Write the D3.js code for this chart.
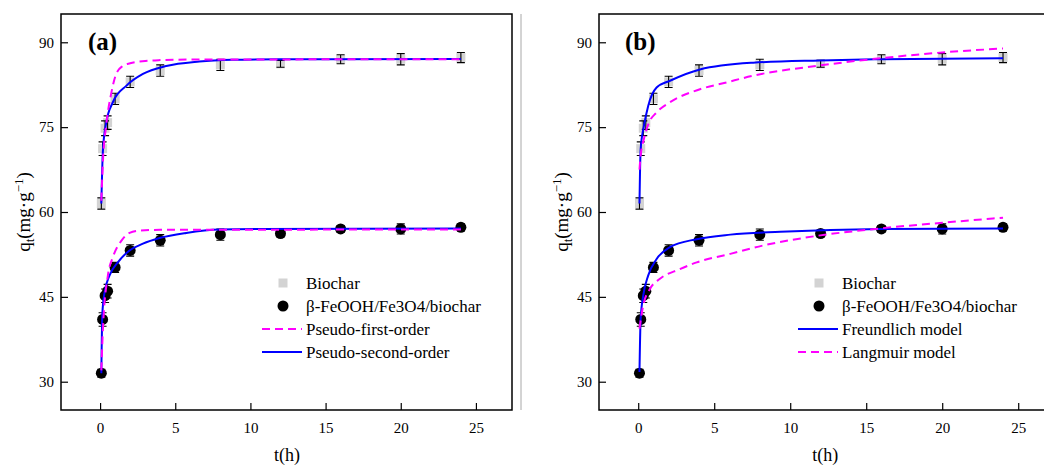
<!DOCTYPE html>
<meta charset="utf-8">
<style>
body { margin: 0; background: #fff; }
svg text { font-family: "Liberation Serif", "Times New Roman", Times, serif !important; fill: #000; }
.tick text { font-size: 15px; }
.tick line { stroke: #000; stroke-width: 1.2px; }
.box { fill: none; stroke: #000; stroke-width: 1.5px; }
.fit { fill: none; stroke-width: 2px; }
</style>
<body>
<script src="https://d3js.org/d3.v7.min.js"></script>
<script>

// measured points (same for both panels)
var times = [0.083, 0.167, 0.333, 0.5, 1, 2, 4, 8, 12, 16, 20, 24];
var biochar = [61.5, 71.2, 74.8, 75.8, 80.0, 83.0, 85.0, 86.0, 86.2, 87.0, 87.0, 87.3];
var biocharErr = [1.0, 1.2, 1.3, 1.2, 1.0, 1.0, 1.0, 1.0, 0.6, 0.8, 1.0, 0.9];
var composite = [31.5, 41.0, 45.2, 46.0, 50.2, 53.2, 55.0, 56.0, 56.2, 57.0, 57.0, 57.3];
var compositeErr = [0.7, 1.2, 1.2, 1.2, 0.9, 1.0, 1.0, 1.0, 0.6, 0.6, 0.9, 0.6];

// fitted curves, [t, q]
var pfoBiochar = [[0.083, 62.0], [0.2, 69.5], [0.4, 75.2], [0.75, 81.1], [1.07, 84.4], [1.5, 85.8], [2, 86.3], [3, 86.7], [4, 86.85], [6, 86.95], [24, 87.0]];
var psoBiochar = [[0.083, 61.5], [0.19, 71.0], [0.41, 75.8], [0.85, 79.4], [1.74, 82.3], [2.85, 84.4], [4.4, 85.8], [6.6, 86.6], [8.8, 86.9], [12, 87.0], [24, 87.05]];
var pfoComposite = [[0.083, 32.0], [0.19, 39.4], [0.52, 48.8], [0.85, 52.0], [1.41, 54.9], [1.96, 56.3], [2.63, 56.7], [4, 56.85], [24, 56.9]];
var psoComposite = [[0.083, 31.5], [0.15, 42.0], [0.3, 45.8], [0.63, 48.8], [1.18, 51.1], [1.96, 53.2], [2.85, 54.4], [3.96, 55.4], [5.73, 56.3], [7.95, 56.9], [10.6, 57.0], [24, 57.1]];

var freundBiochar = [[0.083, 61.5], [0.16, 71.1], [0.375, 75.2], [0.66, 78.8], [1.21, 82.0], [2.09, 83.2], [4.06, 85.2], [7.57, 86.4], [11.95, 86.8], [16, 87.0], [24, 87.2]];
var langBiochar = [[0.083, 67.5], [0.16, 70.0], [0.375, 72.9], [0.66, 75.5], [1.21, 77.6], [2.09, 79.4], [4.06, 81.7], [5.8, 82.9], [7.57, 84.1], [11.95, 85.9], [16, 87.2], [20, 88.2], [24, 88.9]];
var freundComposite = [[0.083, 31.7], [0.16, 41.1], [0.33, 45.2], [0.66, 48.8], [1.21, 51.7], [2.09, 53.8], [3.85, 55.2], [6.06, 56.0], [9.35, 56.5], [15.93, 57.0], [24, 57.1]];
var langComposite = [[0.083, 39.4], [0.33, 43.5], [0.77, 46.4], [1.43, 48.2], [2.74, 49.9], [3.85, 51.1], [6.06, 52.6], [8.25, 54.1], [11.56, 55.7], [15.93, 57.1], [20, 58.1], [24, 59.0]];

var xTicks = [0, 5, 10, 15, 20, 25];
var yTicks = [30, 45, 60, 75, 90];

var FONT = "'Liberation Serif', 'Times New Roman', Times, serif";

var svg = d3.select("body").append("svg")
    .attr("width", 1044)
    .attr("height", 466)
    .attr("font-family", FONT);

// thin separator between the two sub-figures
svg.append("line")
    .attr("x1", 521).attr("x2", 521)
    .attr("y1", 14).attr("y2", 410)
    .attr("stroke", "#a8a8a8").attr("stroke-width", 1);

function drawPanel(opt) {
  var g = svg.append("g");
  var x = d3.scaleLinear().domain(opt.xDomain).range([opt.left, opt.left + opt.width]);
  var y = d3.scaleLinear().domain([25, 95]).range([410, 14]);

  g.append("g")
      .attr("transform", "translate(0,410)")
      .call(d3.axisBottom(x).tickValues(xTicks).tickSize(-7).tickPadding(12))
      .attr("font-family", FONT).attr("font-size", 15)
      .call(function(a) { a.select(".domain").remove(); });

  g.append("g")
      .attr("transform", "translate(" + opt.left + ",0)")
      .call(d3.axisLeft(y).tickValues(yTicks).tickSize(-7).tickPadding(7))
      .attr("font-family", FONT).attr("font-size", 15)
      .call(function(a) { a.select(".domain").remove(); });

  // frame
  g.append("path")
      .attr("class", "box")
      .attr("d", opt.closed
        ? "M" + opt.left + ",14H" + (opt.left + opt.width) + "V410H" + opt.left + "Z"
        : "M1044,14H" + opt.left + "V410H1044");

  // error bars + markers
  function points(vals, errs, kind) {
    var pg = g.append("g");
    vals.forEach(function(v, i) {
      var cx = x(times[i]);
      if (kind == "sq") {
        pg.append("rect")
          .attr("x", cx - 4.5).attr("y", y(v) - 4.5)
          .attr("width", 9).attr("height", 9)
          .attr("fill", "#d3d3d3");
      } else {
        pg.append("circle")
          .attr("cx", cx).attr("cy", y(v)).attr("r", 5.5)
          .attr("fill", "#000");
      }
    });
    vals.forEach(function(v, i) {
      var cx = x(times[i]), y0 = y(v - errs[i]), y1 = y(v + errs[i]);
      pg.append("path")
        .attr("d", "M" + cx + "," + y0 + "V" + y1 +
                   "M" + (cx - 4) + "," + y0 + "h8" +
                   "M" + (cx - 4) + "," + y1 + "h8")
        .attr("stroke", "#000").attr("stroke-width", 1.1).attr("fill", "none");
    });
  }
  points(biochar, biocharErr, "sq");
  points(composite, compositeErr, "dot");

  var line = d3.line()
      .x(function(d) { return x(d[0]); })
      .y(function(d) { return y(d[1]); })
      .curve(d3.curveMonotoneX);

  opt.curves.forEach(function(c) {
    g.append("path")
      .datum(c.data)
      .attr("class", "fit")
      .attr("stroke", c.color)
      .attr("stroke-dasharray", c.dash ? "8,5" : null)
      .attr("d", line);
  });

  // panel tag
  g.append("text")
      .attr("x", opt.tagX).attr("y", 50)
      .style("font-size", "25px").style("font-weight", "bold")
      .text(opt.tag);

  // axis titles
  g.append("text")
      .attr("x", x(xTicks[0]) + 187)
      .attr("y", 461)
      .attr("text-anchor", "middle")
      .style("font-size", "18px")
      .text("t(h)");

  var yl = g.append("text")
      .attr("transform", "translate(" + (opt.left - 31) + ",212) rotate(-90)")
      .attr("text-anchor", "middle")
      .style("font-size", "19px");
  yl.append("tspan").text("q");
  yl.append("tspan").attr("dy", 4).style("font-size", "13px").text("t");
  yl.append("tspan").attr("dy", -4).text("(mg·g");
  yl.append("tspan").attr("dy", -7).style("font-size", "13px").text("−1");
  yl.append("tspan").attr("dy", 7).text(")");

  // legend
  var lg = g.append("g").style("font-size", "17px");
  var rows = [283, 306, 329, 352];
  lg.append("rect").attr("x", opt.legX - 4.5).attr("y", rows[0] - 4.5)
      .attr("width", 9).attr("height", 9).attr("fill", "#d3d3d3");
  lg.append("circle").attr("cx", opt.legX).attr("cy", rows[1]).attr("r", 5.5).attr("fill", "#000");
  opt.legLines.forEach(function(c, i) {
    lg.append("line")
      .attr("x1", opt.legX - 21).attr("x2", opt.legX + 19)
      .attr("y1", rows[i + 2]).attr("y2", rows[i + 2])
      .attr("stroke", c.color).attr("stroke-width", 2)
      .attr("stroke-dasharray", c.dash ? "8,5" : null);
  });
  var labels = ["Biochar", "β-FeOOH/Fe3O4/biochar"].concat(opt.legLines.map(function(c) { return c.name; }));
  labels.forEach(function(t, i) {
    lg.append("text").attr("x", opt.legX + 23).attr("y", rows[i] + 6).text(t);
  });
}

drawPanel({
  left: 61, width: 451, xDomain: [-2.6, 27.4], closed: true,
  tag: "(a)", tagX: 88, legX: 283,
  curves: [
    {data: psoBiochar, color: "#0000ff"},
    {data: psoComposite, color: "#0000ff"},
    {data: pfoBiochar, color: "#ff00ff", dash: true},
    {data: pfoComposite, color: "#ff00ff", dash: true}
  ],
  legLines: [
    {name: "Pseudo-first-order", color: "#ff00ff", dash: true},
    {name: "Pseudo-second-order", color: "#0000ff"}
  ]
});

drawPanel({
  left: 599, width: 456, xDomain: [-2.58, 27.42], closed: false,
  tag: "(b)", tagX: 625, legX: 819,
  curves: [
    {data: freundBiochar, color: "#0000ff"},
    {data: freundComposite, color: "#0000ff"},
    {data: langBiochar, color: "#ff00ff", dash: true},
    {data: langComposite, color: "#ff00ff", dash: true}
  ],
  legLines: [
    {name: "Freundlich model", color: "#0000ff"},
    {name: "Langmuir model", color: "#ff00ff", dash: true}
  ]
});

</script>
</body>
